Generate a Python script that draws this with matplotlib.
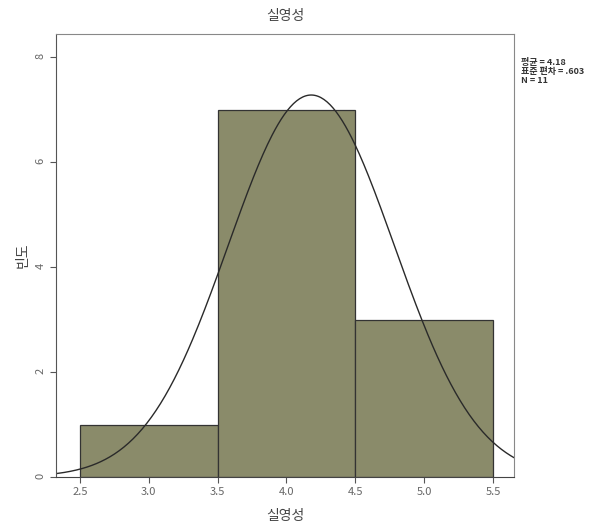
import numpy as np
import matplotlib.pyplot as plt

plt.rcParams['font.family'] = ['Noto Sans CJK KR', 'DejaVu Sans']

bin_edges = [2.5, 3.5, 4.5, 5.5]
counts = [1, 7, 3]
mean, sd, n = 4.18, 0.603, 11
xticks = [2.5, 3.0, 3.5, 4.0, 4.5, 5.0, 5.5]
yticks = [0, 2, 4, 6, 8]

fig = plt.figure(figsize=(6.10, 5.28), dpi=100)
ax = fig.add_axes([56 / 610, 1 - 477 / 528, 458 / 610, 443 / 528])

widths = np.diff(bin_edges)
ax.bar(bin_edges[:-1], counts, width=widths, align='edge',
       color='#8a8b6a', edgecolor='#333333', linewidth=0.9)

xs = np.linspace(2.33, 5.65, 300)
ys = n * 1.0 / (sd * np.sqrt(2 * np.pi)) * np.exp(-0.5 * ((xs - mean) / sd) ** 2)
ax.plot(xs, ys, color='#2a2a2a', linewidth=1.0)

ax.set_xlim(2.326, 5.653)
ax.set_ylim(0, 8.44)
ax.set_xticks(xticks)
ax.set_xticklabels([f"{t:.1f}" for t in xticks])
ax.set_yticks(yticks)
ax.tick_params(axis='both', labelsize=8, colors='#555555', labelcolor='#666666',
               direction='out', length=4)
ax.tick_params(axis='y', labelrotation=90)
for s in ax.spines.values():
    s.set_color('#888888')
    s.set_linewidth(0.8)
ax.spines['bottom'].set_color('#444444')
ax.spines['left'].set_color('#555555')

ax.set_title('실영성', fontsize=10, color='#444444', pad=10)
ax.set_xlabel('실영성', fontsize=10, color='#444444', labelpad=8)
ax.set_ylabel('빈도', fontsize=10, color='#444444', labelpad=4)

fig.text(521 / 610, 1 - 58 / 528,
         f"평균 = {mean}\n표준 편차 = .{int(round(sd * 1000))}\nN = {n}",
         fontsize=6.5, color='#333333', va='top', ha='left', linespacing=1.0,
         fontweight='bold')

fig.savefig('out.png', dpi=100)
